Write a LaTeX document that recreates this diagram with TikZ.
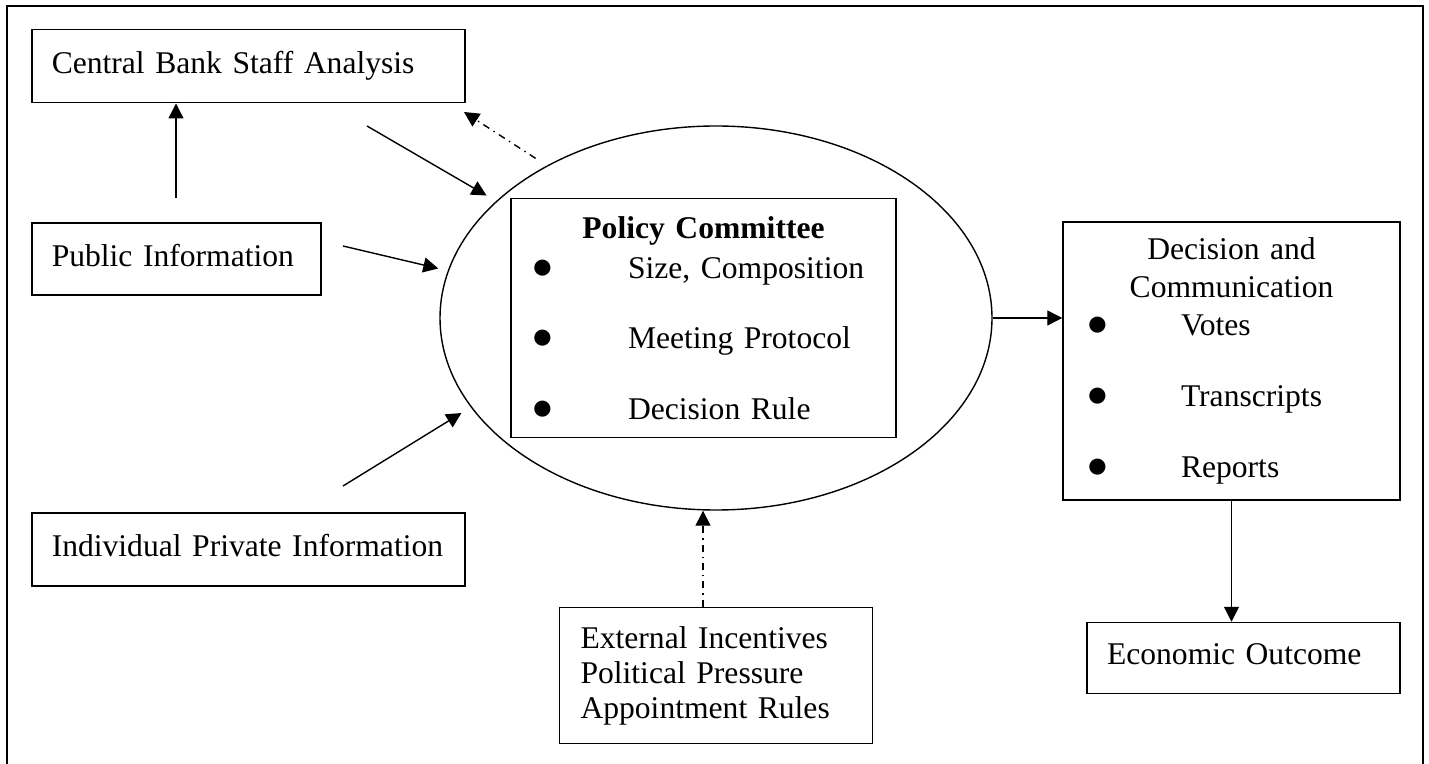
\documentclass[tikz,border=0pt]{standalone}
\usepackage{fontspec}
\setmainfont{Liberation Serif}
\usetikzlibrary{positioning,shapes.geometric,arrows.meta}

\newcommand{\itm}[2][48pt]{\makebox[\linewidth][l]{\makebox[#1][l]{{\fontsize{21pt}{0pt}\selectfont$\bullet$}}#2}}

\begin{document}
\begin{tikzpicture}[x=0.5pt,y=-0.5pt,
	bstyle/.style={draw, line width=0.75pt, inner xsep=10pt, inner ysep=0pt,
	align=left, font=\fontsize{15.8pt}{19pt}\selectfont},
	sstyle/.style={bstyle, text depth=3.5pt},
	estyle/.style={ellipse, draw, line width=0.7pt, inner sep=0pt,
	minimum width=276pt, minimum height=192pt},
	astyle/.style={->, line width=0.7pt},
	dstyle/.style={astyle, dash pattern=on 3.5pt off 2.5pt on 0.7pt off 2.5pt},
	>={Triangle[length=7.5pt,width=7.5pt]}
	]
	\useasboundingbox (0,0) rectangle (1429,764);
	\draw[line width=1.1pt] (7,790) -- (7,6) -- (1423,6) -- (1423,790);
	
	\node[sstyle, text width=196.7pt, minimum height=36.5pt, anchor=north west] (1) at (31,29) {Central Bank Staff Analysis};
	\node[sstyle, text width=124.7pt, minimum height=36pt] (2) [below=59.5pt of 1.south west, anchor=north west] {Public Information};
	\node[sstyle, text width=196.5pt, minimum height=36.5pt] (3) [below=108pt of 2.south west, anchor=north west] {\mbox{Individual Private Information}};
	
	\node[estyle] (4) at (716,318) {};
	\node[bstyle, inner xsep=10.5pt, text width=171.5pt, minimum height=119.5pt, align=center,
	font=\fontsize{15.8pt}{20pt}\selectfont] (5) at ([xshift=-6.25pt]4.center)
	{\textbf{Policy Committee}\\ \itm{Size, Composition}\\[15.25pt] \itm{Meeting Protocol}\\[15.25pt] \itm{Decision Rule}};
	
	\node[bstyle, inner xsep=12pt, text width=144.5pt, minimum height=139pt, align=center] (6) at (1231.5,361)
	{Decision and\\Communication\\ \itm[47pt]{Votes}\\[16.5pt] \itm[47pt]{Transcripts}\\[16.5pt] \itm[47pt]{Reports}};
	\node[sstyle, text width=136.5pt, minimum height=35.5pt] (7) [below=60.5pt of 6.south east, anchor=north east] {Economic Outcome};
	
	\node[bstyle, inner xsep=10.5pt, text width=135.5pt, minimum height=68pt,
	font=\fontsize{15.8pt}{17.5pt}\selectfont] (8) [below=48pt of 4] {External Incentives\\Political Pressure\\Appointment Rules};
	
	\coordinate (a1) at (176,198);
	\coordinate (b1) at (367,126);
	\coordinate (c1) at (343,246);
	\coordinate (d1) at (343,486);
	\coordinate (e1) at (464,112);
	
	\draw[astyle] (a1) to (a1 |- 1.south);
	\draw[astyle, shorten >=5.5pt] (b1) to (4.152);
	\draw[astyle, shorten >=4.85pt] (c1) to (4.170);
	\draw[astyle, shorten >=5.5pt] (d1) to (4.200);
	\draw[dstyle, shorten <=6.6pt] (4.138) to (e1);
	\draw[astyle] (4.east) to (4.east -| 6.west);
	\draw[astyle] (6.south) to (6.south |- 7.north);
	\draw[dstyle] ([xshift=-6.5pt]8.north) to ([xshift=-6.5pt]8.north |- 4.south);
\end{tikzpicture}
\end{document}
